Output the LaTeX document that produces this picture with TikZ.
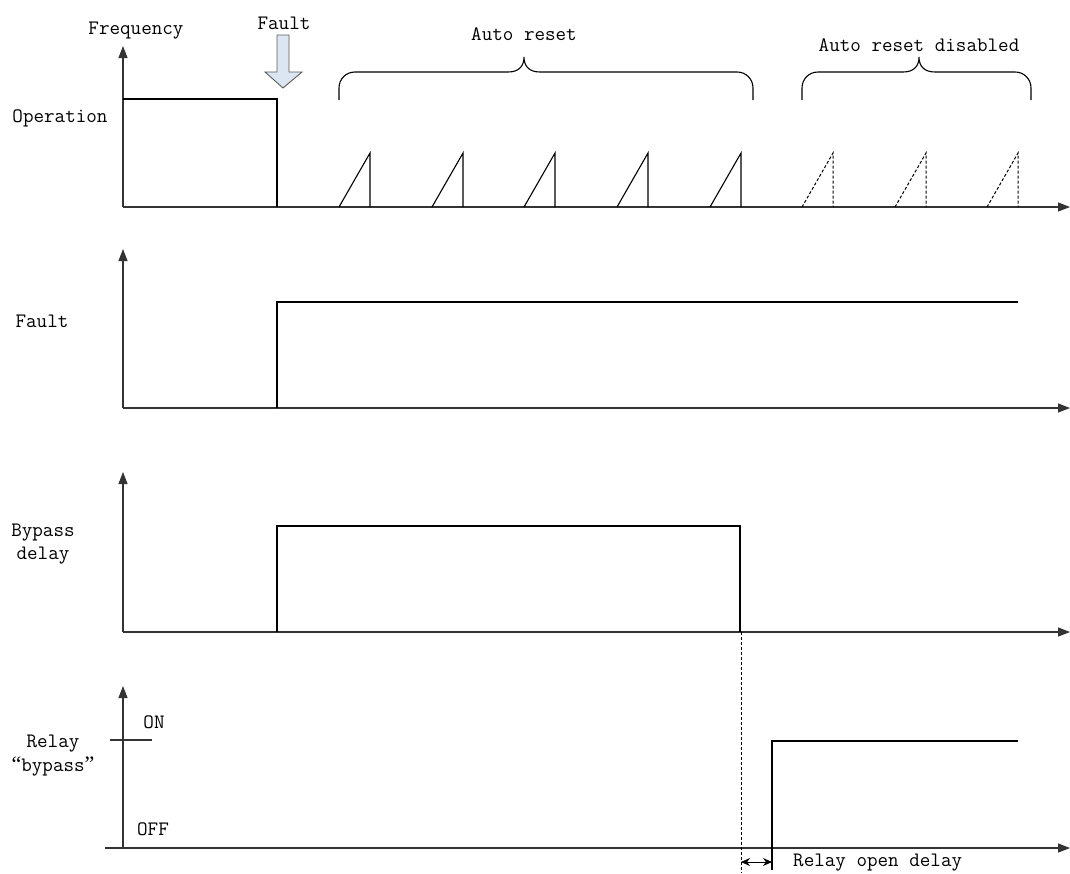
\documentclass[tikz,border=0pt]{standalone}
\usepackage{fontspec}
\newfontfamily\qfont{Liberation Serif}
\usetikzlibrary{arrows.meta}
\definecolor{ln}{HTML}{333333}
\definecolor{arrfill}{HTML}{DCE6F2}
\definecolor{arrdraw}{HTML}{5A5A5A}
\tikzset{
  lbl/.style={font=\ttfamily\fontsize{20.5}{24}\selectfont, inner sep=0pt, text=black},
  axis/.style={draw=ln, line width=1.1pt, -{Triangle[length=12pt,width=9pt]}},
  sig/.style={draw=black, line width=1.1pt},
  dsig/.style={draw=black, line width=1pt, dash pattern=on 3pt off 2pt},
  brace/.style={draw=black, line width=1.1pt},
}
\begin{document}
\begin{tikzpicture}[x=1pt,y=-1pt]
\useasboundingbox (0,0) rectangle (1070,873);
% ---------- Panel 1: Frequency ----------
\draw[axis] (123,207) -- (123,46);
\draw[axis] (123,207) -- (1070,207);
\draw[sig] (123,99) -- (277,99) -- (277,207);
\node[lbl] (freq) at (136,31) {Frequency};
\node[lbl] (oper) at (60,118) {Operation};
\node[lbl] (faultT) at (284,23) {Fault};
% fault block arrow
\draw[draw=arrdraw, fill=arrfill, line width=0.9pt]
  (277,35) -- (289,35) -- (289,72) -- (302,72) -- (283,88) -- (265,72) -- (277,72) -- cycle;
% sawtooths
\foreach \x in {339,432,524,617,710}{
  \draw[sig] (\x,207) -- (\x+31,153) -- (\x+31,207);
}
\foreach \x in {802,895,987}{
  \draw[dsig] (\x,207) -- (\x+31,153) -- (\x+31,207);
}
% braces
\draw[brace] (339,100) -- (339,88) .. controls (339,79) and (346,72) .. (355,72) -- (508,72)
  .. controls (519,72) and (524,66) .. (524,57)
  .. controls (524,66) and (529,72) .. (540,72) -- (737,72)
  .. controls (746,72) and (753,79) .. (753,88) -- (753,100);
\node[lbl] (auto) at (524,34) {Auto reset};
\draw[brace] (802,100) -- (802,88) .. controls (802,79) and (809,72) .. (818,72) -- (903,72)
  .. controls (914,72) and (919,66) .. (919,57)
  .. controls (919,66) and (924,72) .. (935,72) -- (1015,72)
  .. controls (1024,72) and (1031,79) .. (1031,88) -- (1031,100);
\node[lbl] (autodis) at (919,45) {Auto reset disabled};
% ---------- Panel 2: Fault ----------
\draw[axis] (123,408) -- (123,249);
\draw[axis] (123,408) -- (1070,408);
\draw[sig] (277,408) -- (277,302) -- (1018,302);
\node[lbl] (fault) at (42,321) {Fault};
% ---------- Panel 3: Bypass delay ----------
\draw[axis] (123,632) -- (123,472);
\draw[axis] (123,632) -- (1070,632);
\draw[sig] (277,632) -- (277,526) -- (740,526) -- (740,632);
\node[lbl] (byp) at (43,533) {Bypass};
\node[lbl] (del) at (43,556) {delay};
% ---------- Panel 4: Relay bypass ----------
\draw[axis] (123,848) -- (123,686);
\draw[axis] (105,848) -- (1070,848);
\draw[draw=ln, line width=1.1pt] (110,740) -- (152,740);
\node[lbl] (on) at (154,722) {ON};
\node[lbl] (off) at (153,829) {OFF};
\node[lbl] (relay) at (53,744) {Relay};
\node[lbl] (rbyp) at (53,766) {{\qfont\fontsize{22}{24}\selectfont “}bypass{\qfont\fontsize{22}{24}\selectfont ”}};
\draw[sig] (772,870) -- (772,741) -- (1018,741);
\draw[draw=black, line width=0.9pt, dash pattern=on 3pt off 2pt] (741,632) -- (741,873);
\coordinate (dl) at (741,862);
\coordinate (dr) at (772,862);
\draw[line width=1pt, {Stealth[length=9pt,width=8pt]}-{Stealth[length=9pt,width=8pt]}] (dl) -- (dr);
\node[lbl, anchor=west] (rod) at (793,863) {Relay open delay};
\end{tikzpicture}
\end{document}
